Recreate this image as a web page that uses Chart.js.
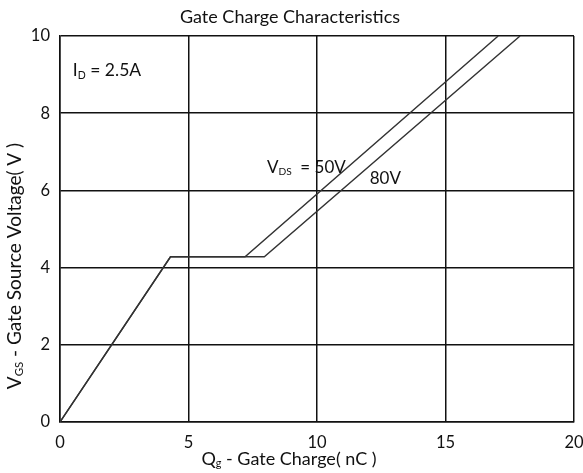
<!DOCTYPE html>
<html>
<head>
<meta charset="utf-8">
<script src="https://cdn.jsdelivr.net/npm/chart.js@4.4.1/dist/chart.umd.min.js"></script>
<style>
  html, body { margin: 0; padding: 0; background: #fff; }
  #wrap { width: 583px; height: 473px; }
</style>
</head>
<body>
<div id="wrap"><canvas id="myChart" width="583" height="473"></canvas></div>
<script>
// Gate charge curves
var qg_50v = [0, 4.3, 7.2, 17.05];
var vgs_50v = [0, 4.28, 4.28, 10];
var qg_80v = [0, 4.3, 7.95, 17.9];
var vgs_80v = [0, 4.28, 4.28, 10];

var xTicks = [0, 5, 10, 15, 20];
var yTicks = [0, 2, 4, 6, 8, 10];

var FONT = "Lato";

const toPoints = (xs, ys) => xs.map((x, i) => ({x: x, y: ys[i]}));

// draws "main" + small subscript + rest
const drawSub = (ctx, x, y, parts, size) => {
    let cx = x;
    parts.forEach(p => {
        let s = p.sub ? size * 0.6 : size;
        ctx.font = s + "px " + FONT;
        ctx.fillText(p.t, cx, y + (p.sub ? size * 0.25 : 0));
        cx += ctx.measureText(p.t).width;
    });
    return cx - x;
};
const measureSub = (ctx, parts, size) => {
    let w = 0;
    parts.forEach(p => {
        ctx.font = (p.sub ? size * 0.6 : size) + "px " + FONT;
        w += ctx.measureText(p.t).width;
    });
    return w;
};

const textPlugin = {
    id: "texts",
    afterDraw(chart) {
        const ctx = chart.ctx;
        const xs = chart.scales.x, ys = chart.scales.y;
        ctx.save();
        ctx.fillStyle = "#111";
        ctx.textBaseline = "middle";
        ctx.textAlign = "left";

        // title
        ctx.font = "18px " + FONT;
        ctx.textAlign = "center";
        ctx.fillText("Gate Charge Characteristics", 290, 17);
        ctx.textAlign = "left";

        // x title
        let xt = [{t: "Q"}, {t: "g", sub: true}, {t: " - Gate Charge( nC )"}];
        let w = measureSub(ctx, xt, 18);
        drawSub(ctx, 289 - w / 2, 459, xt, 18);

        // y title
        let yt = [{t: "V"}, {t: "GS", sub: true}, {t: " - Gate Source Voltage( V )"}];
        w = measureSub(ctx, yt, 19);
        ctx.save();
        ctx.translate(15, 266);
        ctx.rotate(-Math.PI / 2);
        drawSub(ctx, -w / 2, 0, yt, 19);
        ctx.restore();

        // annotations
        drawSub(ctx, xs.getPixelForValue(0.5), ys.getPixelForValue(9.1),
            [{t: "I"}, {t: "D", sub: true}, {t: " = 2.5A"}], 17.5);
        drawSub(ctx, xs.getPixelForValue(8.05), ys.getPixelForValue(6.6),
            [{t: "V"}, {t: "DS", sub: true}, {t: "  = 50V"}], 17);
        ctx.font = "17px " + FONT;
        ctx.fillText("80V", xs.getPixelForValue(12.05), ys.getPixelForValue(6.3));
        ctx.restore();
    }
};

new Chart("myChart", {
    type: "scatter",
    data: {
        datasets: [{
            label: "VDS = 50V",
            data: toPoints(qg_50v, vgs_50v),
            showLine: true,
            borderColor: "#333",
            borderWidth: 1.4,
            pointRadius: 0,
            fill: false
        }, {
            label: "80V",
            data: toPoints(qg_80v, vgs_80v),
            showLine: true,
            borderColor: "#333",
            borderWidth: 1.4,
            pointRadius: 0,
            fill: false
        }]
    },
    options: {
        responsive: false,
        animation: false,
        layout: {padding: {left: 0, right: 9, top: 36, bottom: 0}},
        plugins: {
            legend: {display: false},
            tooltip: {enabled: false},
            title: {display: false}
        },
        scales: {
            x: {
                type: "linear",
                min: 0, max: 20,
                afterBuildTicks: (s) => { s.ticks = xTicks.map(v => ({value: v})); },
                afterFit: (s) => { s.height = 51; s.paddingLeft = 0; s.paddingRight = 0; },
                grid: {color: "#111", lineWidth: 1.5, drawTicks: false},
                border: {color: "#111", width: 1.5},
                ticks: {color: "#111", padding: 11, maxRotation: 0, font: {family: FONT, size: 16.5}}
            },
            y: {
                type: "linear",
                min: 0, max: 10,
                afterBuildTicks: (s) => { s.ticks = yTicks.map(v => ({value: v})); },
                afterFit: (s) => { s.width = 60; s.paddingTop = 0; s.paddingBottom = 0; },
                grid: {color: "#111", lineWidth: 1.5, drawTicks: false},
                border: {color: "#111", width: 1.5},
                ticks: {color: "#111", padding: 10, font: {family: FONT, size: 16.5}}
            }
        }
    },
    plugins: [textPlugin]
});
</script>
</body>
</html>
